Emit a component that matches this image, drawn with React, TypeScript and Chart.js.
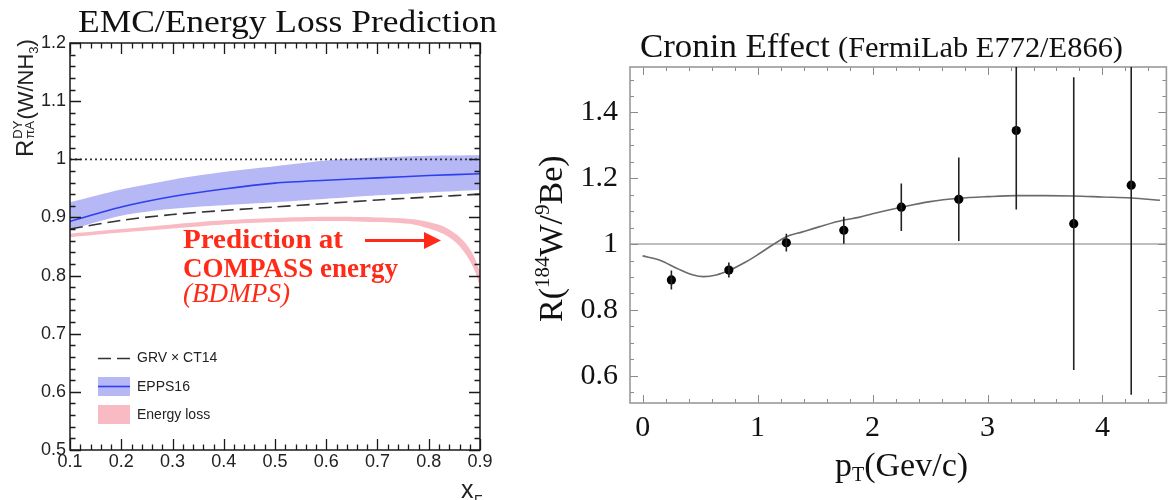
import React, { useEffect, useRef } from "react";
import { Chart, registerables } from "chart.js";

Chart.register(...registerables);

// ---------------- Left panel (EMC / energy loss) ----------------
const xfTicks = [0.1, 0.2, 0.3, 0.4, 0.5, 0.6, 0.7, 0.8, 0.9];
const xfTickLabels = ["0.1", "0.2", "0.3", "0.4", "0.5", "0.6", "0.7", "0.8", "0.9"];
const ratioTicks = [0.5, 0.6, 0.7, 0.8, 0.9, 1.0, 1.1, 1.2];
const ratioTickLabels = ["0.5", "0.6", "0.7", "0.8", "0.9", "1", "1.1", "1.2"];

const xfGrid = [0.1, 0.2, 0.3, 0.4, 0.5, 0.6, 0.7, 0.8, 0.9];
const grvCt14 = [0.88, 0.895, 0.905, 0.912, 0.918, 0.924, 0.93, 0.935, 0.94];
const epps16Central = [0.893, 0.918, 0.936, 0.949, 0.959, 0.964, 0.968, 0.972, 0.975];
const epps16Upper = [0.926, 0.948, 0.965, 0.978, 0.988, 0.998, 1.003, 1.006, 1.007];
const epps16Lower = [0.879, 0.903, 0.915, 0.921, 0.926, 0.932, 0.938, 0.943, 0.947];

const elossXf = [0.1, 0.2, 0.3, 0.4, 0.5, 0.6, 0.7, 0.77, 0.8, 0.83, 0.855, 0.875, 0.89, 0.9];
const elossUpper = [0.872, 0.88, 0.888, 0.895, 0.899, 0.901, 0.9, 0.897, 0.892, 0.884, 0.87, 0.852, 0.83, 0.806];
const elossLower = [0.866, 0.874, 0.881, 0.888, 0.892, 0.894, 0.892, 0.888, 0.881, 0.871, 0.855, 0.833, 0.808, 0.78];

const unityXf = [0.1, 0.9];
const unityRatio = [1, 1];

const legendLabels = ["GRV \u00d7 CT14", "EPPS16", "Energy loss"];

// ---------------- Right panel (Cronin effect) ----------------
const ptTicks = [0, 1, 2, 3, 4];
const ptTickLabels = ["0", "1", "2", "3", "4"];
const rTicks = [0.6, 0.8, 1.0, 1.2, 1.4];
const rTickLabels = ["0.6", "0.8", "1", "1.2", "1.4"];

const ptBins = [0.25, 0.75, 1.25, 1.75, 2.25, 2.75, 3.25, 3.75, 4.25];
const ratioW = [0.891, 0.921, 1.004, 1.042, 1.112, 1.136, 1.345, 1.062, 1.179];
const ratioWErr = [0.029, 0.023, 0.027, 0.041, 0.072, 0.127, 0.24, 0.445, 0.637];

const fitPt = [0, 0.15, 0.3, 0.44, 0.53, 0.64, 0.76, 0.9, 1.02, 1.13, 1.25, 1.39, 1.54, 1.75, 1.88, 2.0, 2.25, 2.5, 2.75, 3.0, 3.25, 3.5, 3.75, 4.0, 4.25, 4.5];
const fitR = [0.964, 0.951, 0.926, 0.906, 0.901, 0.906, 0.921, 0.946, 0.972, 0.997, 1.022, 1.037, 1.053, 1.073, 1.081, 1.092, 1.112, 1.129, 1.139, 1.144, 1.147, 1.147, 1.146, 1.143, 1.14, 1.133];

const unityPt = [-0.11, 4.556];
const unityR = [1, 1];

// ---------------- styles ----------------
const SANS = "'Liberation Sans', Arial, Helvetica, sans-serif";
const SERIF = "'Liberation Serif', 'Times New Roman', serif";
const BLUE_BAND = "rgba(120,125,235,0.55)";
const BLUE_LINE = "#2f3ff0";
const PINK_BAND = "rgba(245,160,172,0.72)";
const RED_TEXT = "#ff2a17";

const pts = (xs: number[], ys: number[]) => xs.map((x, i) => ({ x, y: ys[i] }));

function fitText(ctx: CanvasRenderingContext2D, text: string, x: number, y: number, font: string, width: number, color: string) {
  ctx.save();
  ctx.font = font;
  ctx.fillStyle = color;
  ctx.textAlign = "left";
  ctx.textBaseline = "alphabetic";
  const m = ctx.measureText(text).width;
  ctx.translate(x, y);
  ctx.scale(width / m, 1);
  ctx.fillText(text, 0, 0);
  ctx.restore();
}

const leftDecor = {
  id: "leftDecor",
  afterDatasetsDraw(chart: any) {
    const ctx: CanvasRenderingContext2D = chart.ctx;
    const { left, right, top, bottom } = chart.chartArea;
    const xs = chart.scales.x;
    const ys = chart.scales.y;
    ctx.save();
    ctx.strokeStyle = "#1a1a1a";
    ctx.lineWidth = 1.3;
    ctx.beginPath();
    for (let i = 0; i <= 40; i++) {
      const v = 0.1 + i * 0.02;
      const px = Math.round(xs.getPixelForValue(v)) + 0.5;
      const len = i % 5 === 0 ? 11 : 5.5;
      ctx.moveTo(px, bottom);
      ctx.lineTo(px, bottom - len);
      ctx.moveTo(px, top);
      ctx.lineTo(px, top + len);
    }
    for (let i = 0; i <= 35; i++) {
      const v = 0.5 + i * 0.02;
      const py = Math.round(ys.getPixelForValue(v)) + 0.5;
      const len = i % 5 === 0 ? 11 : 5.5;
      ctx.moveTo(left, py);
      ctx.lineTo(left + len, py);
      ctx.moveTo(right, py);
      ctx.lineTo(right - len, py);
    }
    ctx.stroke();
    ctx.lineWidth = 1.5;
    ctx.strokeRect(left, top, right - left, bottom - top);
    ctx.restore();
  },
  afterDraw(chart: any) {
    const ctx: CanvasRenderingContext2D = chart.ctx;
    ctx.save();
    // title
    fitText(ctx, "EMC/Energy Loss Prediction", 78, 32, `31px ${SERIF}`, 419, "#111");

    // y-axis title (rotated)
    ctx.save();
    ctx.translate(33, 157);
    ctx.rotate(-Math.PI / 2);
    ctx.fillStyle = "#222";
    ctx.textBaseline = "alphabetic";
    ctx.textAlign = "left";
    let cx = 0;
    ctx.font = `24px ${SANS}`;
    ctx.fillText("R", cx, 0);
    cx += ctx.measureText("R").width + 1;
    ctx.font = `13px ${SANS}`;
    ctx.fillText("DY", cx, -11);
    ctx.fillText("\u03c0A", cx, 1);
    cx += Math.max(ctx.measureText("DY").width, ctx.measureText("\u03c0A").width) + 1;
    ctx.font = `22px ${SANS}`;
    ctx.fillText("(W/NH", cx, 0);
    cx += ctx.measureText("(W/NH").width;
    ctx.font = `13px ${SANS}`;
    ctx.fillText("3", cx, 5);
    cx += ctx.measureText("3").width;
    ctx.font = `22px ${SANS}`;
    ctx.fillText(")", cx, 0);
    ctx.restore();

    // x-axis title
    ctx.fillStyle = "#222";
    ctx.font = `25px ${SANS}`;
    ctx.fillText("x", 461, 498);
    ctx.font = `14px ${SANS}`;
    ctx.fillText("F", 474, 505);

    // annotation
    fitText(ctx, "Prediction at", 183, 248, `bold 27px ${SERIF}`, 160, RED_TEXT);
    fitText(ctx, "COMPASS energy", 183, 277, `bold 27px ${SERIF}`, 215, RED_TEXT);
    fitText(ctx, "(BDMPS)", 183, 302, `italic 27px ${SERIF}`, 107, RED_TEXT);
    ctx.strokeStyle = RED_TEXT;
    ctx.fillStyle = RED_TEXT;
    ctx.lineWidth = 3;
    ctx.beginPath();
    ctx.moveTo(365, 240.5);
    ctx.lineTo(428, 240.5);
    ctx.stroke();
    ctx.beginPath();
    ctx.moveTo(424, 232);
    ctx.lineTo(441, 240.5);
    ctx.lineTo(424, 249);
    ctx.closePath();
    ctx.fill();

    // legend
    ctx.strokeStyle = "#333";
    ctx.lineWidth = 1.6;
    ctx.setLineDash([13, 6]);
    ctx.beginPath();
    ctx.moveTo(98, 358.5);
    ctx.lineTo(131, 358.5);
    ctx.stroke();
    ctx.setLineDash([]);
    ctx.fillStyle = BLUE_BAND;
    ctx.fillRect(98, 377, 32, 19);
    ctx.strokeStyle = BLUE_LINE;
    ctx.lineWidth = 1.6;
    ctx.beginPath();
    ctx.moveTo(98, 386.5);
    ctx.lineTo(130, 386.5);
    ctx.stroke();
    ctx.fillStyle = PINK_BAND;
    ctx.fillRect(98, 405, 32, 19);
    ctx.fillStyle = "#222";
    ctx.font = `14px ${SANS}`;
    ctx.textBaseline = "middle";
    ctx.fillText(legendLabels[0], 137, 358.5);
    ctx.fillText(legendLabels[1], 137, 387);
    ctx.fillText(legendLabels[2], 137, 415);
    ctx.restore();
  },
};

const rightDecor = {
  id: "rightDecor",
  afterDatasetsDraw(chart: any) {
    const ctx: CanvasRenderingContext2D = chart.ctx;
    const { left, right, top, bottom } = chart.chartArea;
    const xs = chart.scales.x;
    const ys = chart.scales.y;
    ctx.save();
    // frame + ticks
    ctx.strokeStyle = "#8a8a8a";
    ctx.lineWidth = 1;
    ctx.beginPath();
    for (let i = 0; i <= 22; i++) {
      const v = i * 0.2;
      const px = Math.round(xs.getPixelForValue(v)) + 0.5;
      const len = i % 5 === 0 ? 8 : 4;
      ctx.moveTo(px, bottom);
      ctx.lineTo(px, bottom - len);
      ctx.moveTo(px, top);
      ctx.lineTo(px, top + len);
    }
    for (let i = 0; i <= 19; i++) {
      const v = 0.55 + i * 0.05;
      const py = Math.round(ys.getPixelForValue(v)) + 0.5;
      const major = Math.abs(v * 5 - Math.round(v * 5)) < 1e-6;
      const len = major ? 8 : 4;
      ctx.moveTo(left, py);
      ctx.lineTo(left + len, py);
      ctx.moveTo(right, py);
      ctx.lineTo(right - len, py);
    }
    ctx.stroke();
    ctx.lineWidth = 1.6;
    ctx.strokeStyle = "#9a9a9a";
    ctx.strokeRect(left, top, right - left, bottom - top);

    // error bars
    ctx.beginPath();
    ctx.rect(left, top, right - left, bottom - top);
    ctx.clip();
    ctx.strokeStyle = "#222";
    ctx.lineWidth = 1.6;
    ctx.beginPath();
    ptBins.forEach((x, i) => {
      const px = xs.getPixelForValue(x);
      ctx.moveTo(px, ys.getPixelForValue(ratioW[i] + ratioWErr[i]));
      ctx.lineTo(px, ys.getPixelForValue(ratioW[i] - ratioWErr[i]));
    });
    ctx.stroke();
    ctx.restore();
  },
  afterDraw(chart: any) {
    const ctx: CanvasRenderingContext2D = chart.ctx;
    ctx.save();
    fitText(ctx, "Cronin Effect", 110, 57, `34px ${SERIF}`, 190, "#111");
    fitText(ctx, "(FermiLab E772/E866)", 308, 57, `30px ${SERIF}`, 285, "#111");

    // y title
    ctx.save();
    ctx.translate(32, 322);
    ctx.rotate(-Math.PI / 2);
    ctx.fillStyle = "#111";
    ctx.textAlign = "left";
    ctx.textBaseline = "alphabetic";
    let cx = 0;
    const big = `34px ${SERIF}`;
    const sup = `21px ${SERIF}`;
    const parts: [string, string, number][] = [
      ["R(", big, 0],
      ["184", sup, -13],
      ["W/", big, 0],
      ["9", sup, -13],
      ["Be)", big, 0],
    ];
    parts.forEach(([t, f, dy]) => {
      ctx.font = f;
      ctx.fillText(t, cx, dy);
      cx += ctx.measureText(t).width;
    });
    ctx.restore();

    // x title
    ctx.fillStyle = "#111";
    ctx.textAlign = "left";
    ctx.textBaseline = "alphabetic";
    let x = 305;
    ctx.font = `34px ${SERIF}`;
    ctx.fillText("p", x, 476);
    x += ctx.measureText("p").width;
    ctx.font = `20px ${SERIF}`;
    ctx.fillText("T", x, 481);
    x += ctx.measureText("T").width;
    ctx.font = `34px ${SERIF}`;
    ctx.fillText("(Gev/c)", x, 476);
    ctx.restore();
  },
};

function leftConfig(): any {
  return {
    type: "line",
    data: {
      datasets: [
        { data: pts(unityXf, unityRatio), borderColor: "#333", borderWidth: 1.8, borderDash: [2, 3], pointRadius: 0, order: 1 },
        { data: pts(xfGrid, epps16Central), borderColor: BLUE_LINE, borderWidth: 1.6, pointRadius: 0, tension: 0.3, order: 2 },
        { data: pts(xfGrid, grvCt14), borderColor: "#333", borderWidth: 1.6, borderDash: [13, 6], pointRadius: 0, tension: 0.3, order: 3 },
        { data: pts(xfGrid, epps16Upper), borderWidth: 0, borderColor: "rgba(0,0,0,0)", pointRadius: 0, tension: 0.3, fill: false, order: 10 },
        { data: pts(xfGrid, epps16Lower), borderWidth: 0, borderColor: "rgba(0,0,0,0)", backgroundColor: BLUE_BAND, pointRadius: 0, tension: 0.3, fill: "-1", order: 10 },
        { data: pts(elossXf, elossUpper), borderWidth: 0, borderColor: "rgba(0,0,0,0)", pointRadius: 0, tension: 0.3, fill: false, order: 11 },
        { data: pts(elossXf, elossLower), borderWidth: 0, borderColor: "rgba(0,0,0,0)", backgroundColor: PINK_BAND, pointRadius: 0, tension: 0.3, fill: "-1", order: 11 },
      ],
    },
    options: {
      animation: false,
      responsive: true,
      maintainAspectRatio: false,
      devicePixelRatio: 1,
      layout: { padding: { left: 0, right: 50, top: 43, bottom: 0 } },
      plugins: { legend: { display: false }, tooltip: { enabled: false }, title: { display: false } },
      scales: {
        x: {
          type: "linear",
          min: 0.1,
          max: 0.9,
          afterFit: (s: any) => { s.height = 50; },
          afterBuildTicks: (s: any) => { s.ticks = xfTicks.map((v) => ({ value: v })); },
          grid: { display: false, drawTicks: false },
          border: { display: false },
          ticks: {
            autoSkip: false,
            maxRotation: 0,
            padding: 1,
            color: "#222",
            font: { family: SANS, size: 18 },
            callback: (_v: any, i: number) => xfTickLabels[i],
          },
        },
        y: {
          type: "linear",
          min: 0.5,
          max: 1.2,
          afterFit: (s: any) => { s.width = 70; },
          afterBuildTicks: (s: any) => { s.ticks = ratioTicks.map((v) => ({ value: v })); },
          grid: { display: false, drawTicks: false },
          border: { display: false },
          ticks: {
            autoSkip: false,
            padding: 4,
            color: "#222",
            font: { family: SANS, size: 18 },
            callback: (_v: any, i: number) => ratioTickLabels[i],
          },
        },
      },
    },
    plugins: [leftDecor],
  };
}

function rightConfig(): any {
  return {
    type: "line",
    data: {
      datasets: [
        { data: pts(ptBins, ratioW), showLine: false, pointRadius: 4.6, pointBackgroundColor: "#000", pointBorderColor: "#000", pointBorderWidth: 0, order: 1 },
        { data: pts(fitPt, fitR), borderColor: "#6a6a6a", borderWidth: 1.6, pointRadius: 0, cubicInterpolationMode: "monotone", order: 2 },
        { data: pts(unityPt, unityR), borderColor: "#a8a8a8", borderWidth: 1.6, pointRadius: 0, order: 3 },
      ],
    },
    options: {
      animation: false,
      responsive: true,
      maintainAspectRatio: false,
      devicePixelRatio: 1,
      layout: { padding: { left: 0, right: 4, top: 67, bottom: 0 } },
      plugins: { legend: { display: false }, tooltip: { enabled: false }, title: { display: false } },
      scales: {
        x: {
          type: "linear",
          min: -0.11,
          max: 4.556,
          afterFit: (s: any) => { s.height = 97; },
          afterBuildTicks: (s: any) => { s.ticks = ptTicks.map((v) => ({ value: v })); },
          grid: { display: false, drawTicks: false },
          border: { display: false },
          ticks: {
            autoSkip: false,
            maxRotation: 0,
            padding: 7,
            color: "#111",
            font: { family: SERIF, size: 30 },
            callback: (_v: any, i: number) => ptTickLabels[i],
          },
        },
        y: {
          type: "linear",
          min: 0.517,
          max: 1.538,
          afterFit: (s: any) => { s.width = 100; },
          afterBuildTicks: (s: any) => { s.ticks = rTicks.map((v) => ({ value: v })); },
          grid: { display: false, drawTicks: false },
          border: { display: false },
          ticks: {
            autoSkip: false,
            padding: 12,
            color: "#111",
            font: { family: SERIF, size: 30 },
            callback: (_v: any, i: number) => rTickLabels[i],
          },
        },
      },
    },
    plugins: [rightDecor],
  };
}

export default function App() {
  const leftRef = useRef<HTMLCanvasElement>(null);
  const rightRef = useRef<HTMLCanvasElement>(null);
  useEffect(() => {
    const l = new Chart(leftRef.current as HTMLCanvasElement, leftConfig());
    const r = new Chart(rightRef.current as HTMLCanvasElement, rightConfig());
    return () => {
      l.destroy();
      r.destroy();
    };
  }, []);
  return (
    <div style={{ position: "fixed", left: 0, top: 0, width: 1171, height: 500, background: "#fff", overflow: "hidden" }}>
      <div style={{ position: "absolute", left: 0, top: 0, width: 530, height: 500 }}>
        <canvas ref={leftRef} />
      </div>
      <div style={{ position: "absolute", left: 530, top: 0, width: 641, height: 500 }}>
        <canvas ref={rightRef} />
      </div>
    </div>
  );
}
